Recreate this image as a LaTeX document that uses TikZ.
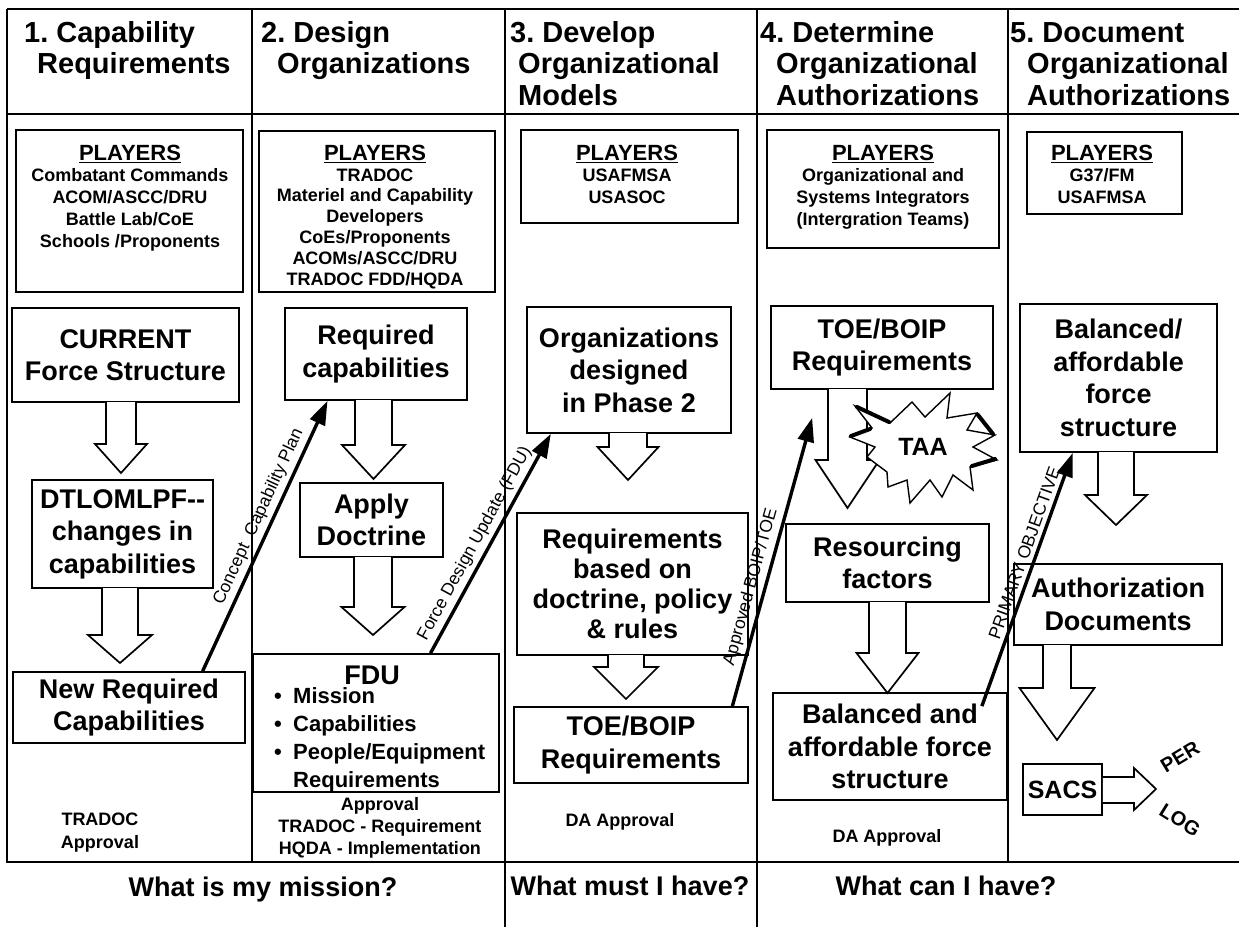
\documentclass[tikz,border=0pt]{standalone}
\usepackage{fontspec}
\setmainfont{Liberation Sans}
\usetikzlibrary{arrows.meta,calc}
\newcommand\fsz[2]{\fontsize{#1}{#2}\selectfont}
\newcommand\pul[1]{\setbox0\hbox{#1}\rlap{\rule[-3.2pt]{\wd0}{1.7pt}}\box0}
\newcommand\hdown[6]{\draw[hollow] ({#1-#5},#2) -- ({#1-#5},#3) -- ({#1-#6},#3) -- (#1,#4) -- ({#1+#6},#3) -- ({#1+#5},#3) -- ({#1+#5},#2);}
\newcommand\bul{\makebox[19pt][l]{\textbullet}}
\frenchspacing
\begin{document}
\begin{tikzpicture}[x=1pt,y=-1pt,
  frame/.style={line width=2.8pt},
  div/.style={line width=2pt},
  box/.style={draw, line width=1.7pt, inner sep=0pt, align=center, font=\bfseries\fsz{27}{32.5}},
  pbox/.style={draw, line width=1.7pt, inner sep=0pt},
  ptext/.style={anchor=north, inner sep=0pt, align=center, font=\bfseries\fsz{18}{21.7}},
  htext/.style={anchor=north west, inner sep=0pt, align=left, font=\bfseries\fsz{29}{31.5}},
  note/.style={anchor=north, inner sep=0pt, align=center, font=\bfseries\fsz{18}{22.5}},
  foot/.style={anchor=base, inner sep=0pt, font=\bfseries\fsz{27}{32}},
  hollow/.style={draw, line width=1.7pt, fill=white, line join=miter},
  diag/.style={line width=3.4pt, -{Triangle[length=24pt,width=16pt]}},
  dlabel/.style={sloped, above=3pt, inner sep=1pt, font=\fsz{17.5}{20}},
  thickedge/.style={line width=4pt, line cap=round},
  starshape/.pic={\path[pic actions] (855,406) -- (890,423) -- (912,402) -- (925,417) -- (950,393) -- (947,418) -- (977,413) -- (967,430) -- (995,435) -- (973,447) -- (997,460) -- (970,467) -- (973,490) -- (953,475) -- (942,497) -- (930,480) -- (910,503) -- (907,480) -- (888,487) -- (887,472) -- (867,457) -- (875,447) -- (850,437) -- (872,428) -- cycle;}
]
\useasboundingbox (0,0) rectangle (1239,927);

% frame
\draw[frame] (7,9) -- (1239,9);
\draw[frame] (7,9) -- (7,862) -- (1239,862);
\draw[frame] (7,114) -- (1239,114);
\draw[div] (252,9) -- (252,862);
\draw[div] (505,9) -- (505,927);
\draw[div] (757,9) -- (757,927);
\draw[div] (1008,9) -- (1008,862);

% headers
\node[htext] (h1) at (24,20) {\rule{0pt}{22pt}1. Capability\\\hspace*{13pt}Requirements};
\node[htext] (h2) at (261,20) {\rule{0pt}{22pt}2. Design\\\hspace*{16pt}Organizations};
\node[htext] (h3) at (510,20) {\rule{0pt}{22pt}3. Develop\\\hspace*{8pt}Organizational\\\hspace*{8pt}Models};
\node[htext] (h4) at (760,20) {\rule{0pt}{22pt}4. Determine\\\hspace*{16pt}Organizational\\\hspace*{16pt}Authorizations};
\node[htext] (h5) at (1010,20) {\rule{0pt}{22pt}5. Document\\\hspace*{17pt}Organizational\\\hspace*{17pt}Authorizations};

% players boxes
\node[pbox, minimum width=227pt, minimum height=162pt] (p1) at (129.5,211) {};
\node[ptext] (p1t) at (130,143) {\rule{0pt}{17pt}{\fsz{22}{22}\pul{PLAYERS}}\\Combatant Commands\\ACOM/ASCC/DRU\\Battle Lab/CoE\\Schools /Proponents};
\node[pbox, minimum width=236pt, minimum height=161pt] (p2) at (377,211.5) {};
\node[ptext, font=\bfseries\fsz{18}{20.8}] (p2t) at (375,143) {\rule{0pt}{17pt}{\fsz{22}{22}\pul{PLAYERS}}\\TRADOC\\Materiel and Capability\\Developers\\CoEs/Proponents\\ACOMs/ASCC/DRU\\TRADOC FDD/HQDA};
\node[pbox, minimum width=217pt, minimum height=93pt] (p3) at (629.5,176.5) {};
\node[ptext] (p3t) at (627,143) {\rule{0pt}{17pt}{\fsz{22}{22}\pul{PLAYERS}}\\USAFMSA\\USASOC};
\node[pbox, minimum width=232pt, minimum height=118pt] (p4) at (883,189) {};
\node[ptext] (p4t) at (883,143) {\rule{0pt}{17pt}{\fsz{22}{22}\pul{PLAYERS}}\\Organizational and\\Systems Integrators\\(Intergration Teams)};
\node[pbox, minimum width=155pt, minimum height=82pt] (p5) at (1104.5,173) {};
\node[ptext] (p5t) at (1102,143) {\rule{0pt}{17pt}{\fsz{22}{22}\pul{PLAYERS}}\\G37/FM\\USAFMSA};

% column 1
\node[box, minimum width=227pt, minimum height=94pt] (cur) at (125.5,355) {CURRENT\\Force Structure};
\node[box, minimum width=181pt, minimum height=108pt] (dtl) at (122.5,534) {DTLOMLPF-{}-\\changes in\\capabilities};
\node[box, minimum width=232pt, minimum height=71pt] (newreq) at (129,707.5) {New Required\\Capabilities};
\node[note, font=\bfseries\fsz{18}{23}] (tapp) at (100,811.5) {\rule{0pt}{14pt}TRADOC\\Approval};
\hdown{121}{402}{444}{473}{15}{26}
\hdown{120}{588}{635}{663}{18}{32}

% column 2
\node[box, minimum width=182pt, minimum height=92pt] (reqcap) at (376,354) {Required\\capabilities};
\node[box, minimum width=143pt, minimum height=74pt] (apply) at (371.5,520) {Apply\\Doctrine};
\node[pbox, minimum width=246pt, minimum height=138pt] (fdu) at (376,723) {};
\node[box, draw=none] (fdut) at (372,675) {FDU};
\node[anchor=north west, inner sep=0pt, align=left, font=\bfseries\fsz{22}{28}] (fdul) at (274,687) {\rule{0pt}{16pt}\bul Mission\\\bul Capabilities\\\bul People/Equipment\\\hspace*{19pt}Requirements};
\node[note, font=\bfseries\fsz{18}{22}] (fapp) at (380,796.5) {\rule{0pt}{14pt}Approval\\TRADOC - Requirement\\HQDA - Implementation};
\hdown{373.5}{400}{445}{479}{18.5}{31.5}
\hdown{373}{557}{607}{635}{19}{31.5}

% column 3
\node[box, minimum width=204pt, minimum height=126pt] (org) at (629,370) {Organizations\\designed\\in Phase 2};
\node[box, font=\bfseries\fsz{27}{30}, minimum width=231pt, minimum height=142pt] (req3) at (632.5,584) {Requirements\\based on\\doctrine, policy\\\& rules};
\node[box, minimum width=234pt, minimum height=76pt] (toe3) at (631,745) {TOE/BOIP\\Requirements};
\node[note] (da3) at (620,812.5) {\rule{0pt}{14pt}DA Approval};
\hdown{628}{433}{447}{480}{19}{30.5}
\hdown{626}{655}{667}{699}{18}{32}

% column 4
\node[box, minimum width=222pt, minimum height=83pt] (toe4) at (882,347.5) {TOE/BOIP\\Requirements};
\node[box, minimum width=203pt, minimum height=78pt] (res) at (887.5,563) {Resourcing\\factors};
\node[box, minimum width=234pt, minimum height=107pt] (bal4) at (890,746.5) {Balanced and\\affordable force\\structure};
\node[note] (da4) at (887,828.5) {\rule{0pt}{14pt}DA Approval};
\hdown{847.5}{389}{460}{508}{19.5}{32}
\hdown{887.5}{602}{653}{693}{18.5}{31}
\pic[draw, fill=white, line width=1.4pt, line join=miter] (taastar) at (0,0) {starshape};
\draw[thickedge] (857,407) -- (889,422);
\draw[thickedge] (851,436) -- (870,429);
\draw[thickedge] (978,415) -- (993,434);
\draw[thickedge] (995,459) -- (972,466);
\node[inner sep=0pt, font=\bfseries\fsz{25}{30}] (taa) at (923,447) {TAA};

% column 5
\node[box, minimum width=197pt, minimum height=148pt] (bal5) at (1118.5,378) {Balanced/\\affordable\\force\\structure};
\node[box, minimum width=208pt, minimum height=81pt] (auth) at (1118,604.5) {Authorization\\Documents};
\node[box, font=\bfseries\fsz{25}{30}, minimum width=79pt, minimum height=51pt] (sacs) at (1062.5,789.5) {SACS};
\hdown{1116}{452}{495}{525}{18}{31}
\hdown{1057}{645}{688}{740}{14}{37.5}
\draw[hollow] (sacs.east |- 0,777) -- (1134,777) -- (1134,768) -- (1156,789) -- (1134,810) -- (1134,803) -- (sacs.east |- 0,803);
\node[inner sep=0pt, rotate=31, font=\bfseries\fsz{20}{24}] (per) at (1180,757) {PER};
\node[inner sep=0pt, rotate=-32, font=\bfseries\fsz{20}{24}] (log) at (1180,820) {LOG};

% diagonal arrows
\coordinate (apptip) at ($(toe4.south west)+(42,28)$);
\coordinate (primtail) at ($(bal4.north east)+(-26,14)$);
\draw[diag] ($(newreq.north west)!0.815!(newreq.north east)$) -- node[dlabel,pos=0.55]{Concept\hspace{10pt}Capability Plan} ($(reqcap.south west)!0.236!(reqcap.south east)$);
\draw[diag] ($(fdu.north west)!0.72!(fdu.north east)$) -- node[dlabel,pos=0.47]{Force Design Update (FDU)} ($(org.south west)!0.12!(org.south east)$);
\draw[diag] ($(toe3.north west)!0.93!(toe3.north east)$) -- node[dlabel,pos=0.40]{Approved BOIP/TOE} (apptip);
\draw[diag] (primtail) -- node[dlabel,pos=0.59]{PRIMARY OBJECTIVE} ($(bal5.south west)!0.27!(bal5.south east)$);

% footer
\node[foot] (f1) at (263,896) {What is my mission?};
\node[foot] (f2) at (630,895) {What must I have?};
\node[foot] (f3) at (946,895) {What can I have?};
\end{tikzpicture}
\end{document}
